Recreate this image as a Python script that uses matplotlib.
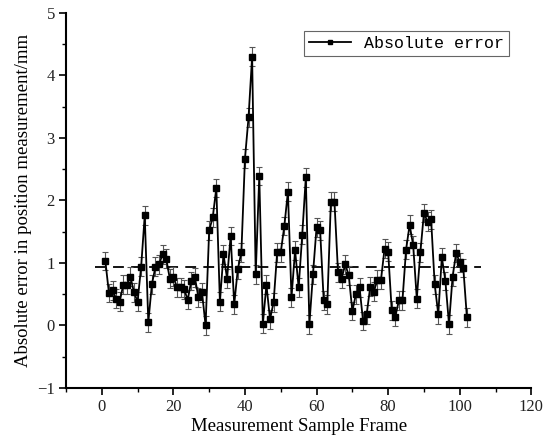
import matplotlib
matplotlib.use("Agg")
import matplotlib.pyplot as plt
from matplotlib.ticker import MultipleLocator

# sample frame index and absolute error (mm)
frames = list(range(1, 103))
abs_error = [
    1.03, 0.52, 0.56, 0.43, 0.38, 0.65, 0.65, 0.78, 0.53, 0.38,
    0.94, 1.76, 0.05, 0.66, 0.94, 0.98, 1.14, 1.07, 0.75, 0.78,
    0.61, 0.61, 0.58, 0.41, 0.71, 0.77, 0.45, 0.53, 0.00, 1.52,
    1.73, 2.20, 0.38, 1.14, 0.75, 1.43, 0.34, 0.90, 1.17, 2.67,
    3.33, 4.30, 0.82, 2.39, 0.03, 0.65, 0.10, 0.37, 1.17, 1.17,
    1.59, 2.14, 0.45, 1.20, 0.61, 1.45, 2.37, 0.02, 0.82, 1.57,
    1.52, 0.40, 0.34, 1.98, 1.98, 0.85, 0.75, 0.98, 0.80, 0.23,
    0.50, 0.61, 0.07, 0.18, 0.62, 0.54, 0.73, 0.73, 1.23, 1.18,
    0.24, 0.14, 0.40, 0.40, 1.21, 1.61, 1.28, 0.43, 1.17, 1.80,
    1.66, 1.70, 0.66, 0.18, 1.09, 0.71, 0.02, 0.78, 1.16, 1.01,
    0.92, 0.13,
]
err_bar = 0.15          # error bar half-length
mean_level = 0.93       # dashed reference line
mean_span = (-2, 106)

fig = plt.figure(figsize=(5.43, 4.48), dpi=100)
ax = fig.add_axes([0.1215, 0.134, 0.857, 0.837])

ax.errorbar(frames, abs_error, yerr=err_bar, fmt="none", ecolor="#555555",
            elinewidth=0.8, capsize=2.5, capthick=0.8, zorder=2)
ax.plot(frames, abs_error, color="black", lw=1.3, marker="s", ms=3.8,
        label="Absolute error", zorder=3)
ax.hlines(mean_level, *mean_span, colors="black", linestyles=(0, (6, 4)),
          lw=1.3, zorder=1)

ax.set_xlim(-10, 120)
ax.set_ylim(-1, 5)
ax.xaxis.set_major_locator(MultipleLocator(20))
ax.xaxis.set_minor_locator(MultipleLocator(10))
ax.yaxis.set_major_locator(MultipleLocator(1))
ax.yaxis.set_minor_locator(MultipleLocator(0.5))

for side in ["top", "right"]:
    ax.spines[side].set_visible(False)
for side in ["left", "bottom"]:
    ax.spines[side].set_linewidth(1.5)

ax.tick_params(which="major", direction="out", length=5, width=1.2,
               labelsize=12, pad=3)
ax.tick_params(which="minor", direction="out", length=3, width=1.0)
for lbl in ax.get_xticklabels() + ax.get_yticklabels():
    lbl.set_fontfamily("Liberation Serif")
    lbl.set_color("#222222")

ax.set_xlabel("Measurement Sample Frame", fontsize=13.5,
              fontfamily="Liberation Serif", labelpad=2)
ax.set_ylabel("Absolute error in position measurement/mm", fontsize=13.5,
              fontfamily="Liberation Serif", labelpad=4)

leg = ax.legend(loc="upper right", bbox_to_anchor=(0.97, 0.975),
                prop={"family": "Liberation Mono", "size": 12},
                fancybox=False, framealpha=1, edgecolor="#666666",
                handlelength=2.5, borderpad=0.3, markerscale=0.8)
leg.get_frame().set_linewidth(0.8)

fig.savefig("out.png", dpi=100)
